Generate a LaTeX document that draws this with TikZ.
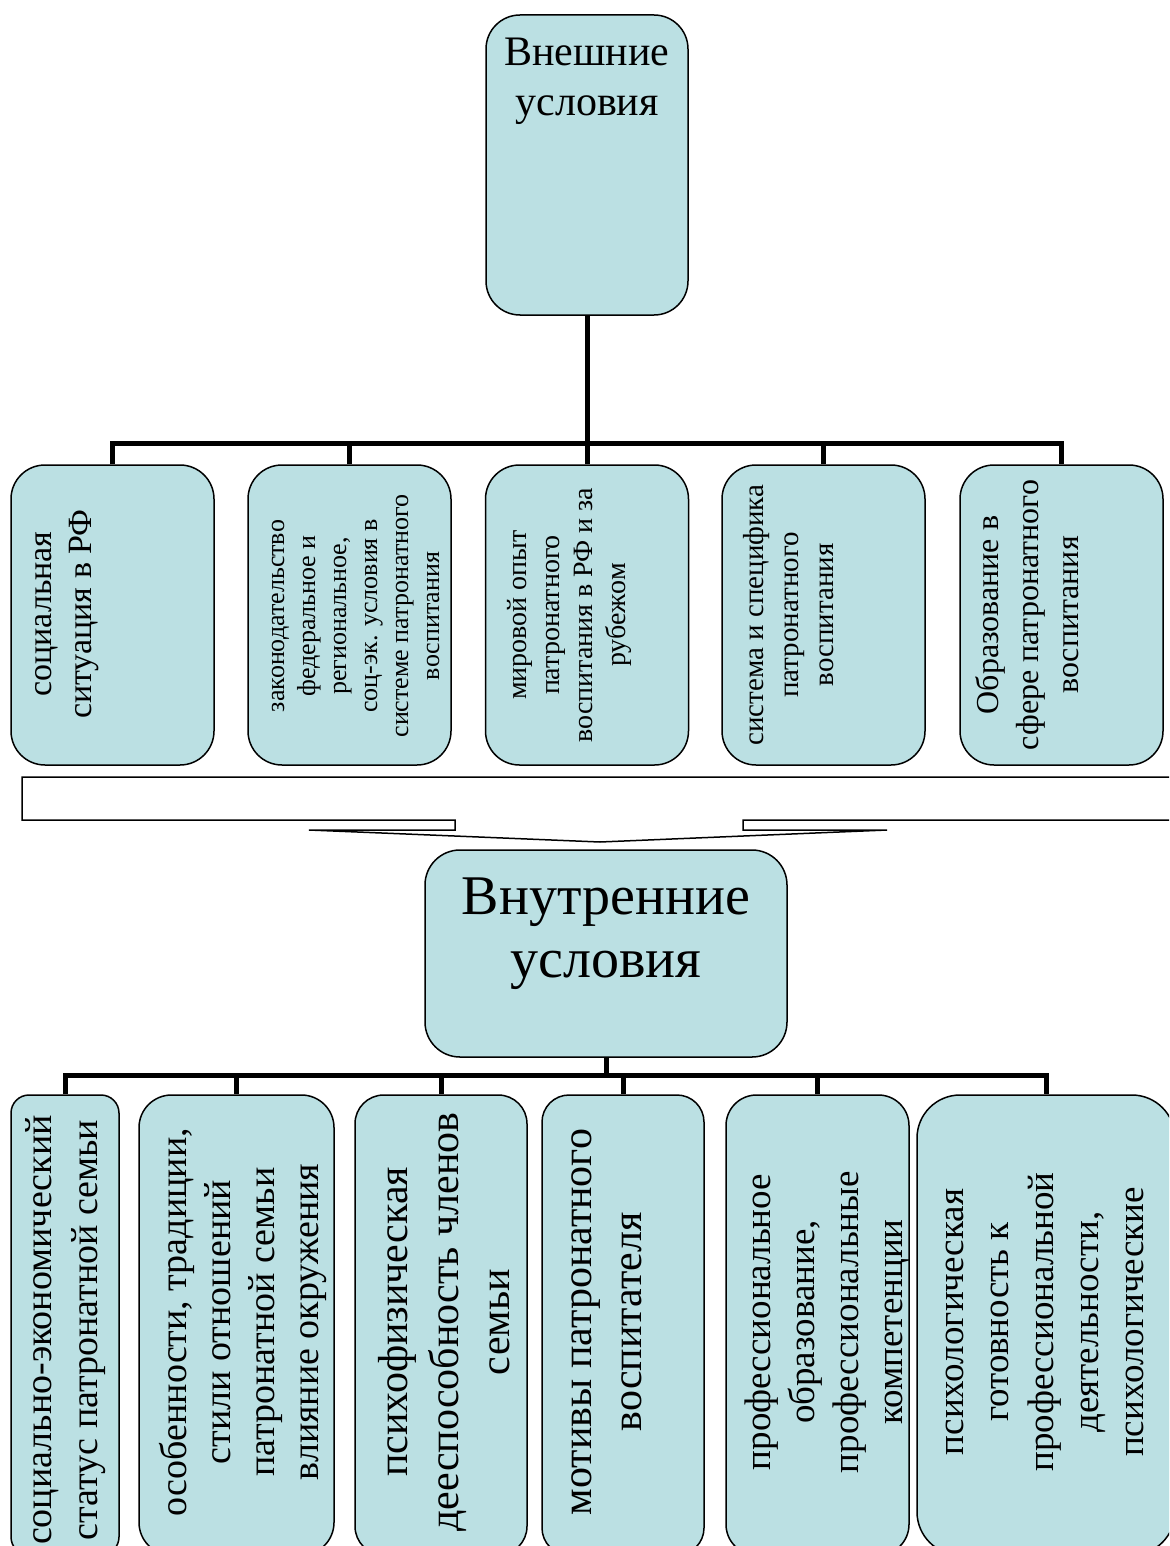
\documentclass[tikz,border=0pt]{standalone}
\usepackage{fontspec}
\setmainfont{Liberation Serif}
\usetikzlibrary{calc}
\definecolor{boxfill}{RGB}{187,224,227}

\begin{document}
\begin{tikzpicture}[x=1pt, y=-1pt,
    box/.style={draw, line width=1.5pt, fill=boxfill, inner sep=0pt},
    wire/.style={line width=5pt},
    lbl/.style={rotate=90, align=center, inner sep=0pt}]

  \useasboundingbox (0,0) rectangle (1169,1546);
  \clip (0,0) rectangle (1169,1546);

  % external conditions
  \node[box, rounded corners=34, minimum width=202, minimum height=300] (ext) at (587,165) {};
  \node[align=center, font=\fontsize{42}{50}\selectfont] (extlbl) at (587,81) {Внешние\\условия};

  \foreach \x [count=\i] in {112.5, 349.5, 587, 823.5, 1061.5}
    \node[box, rounded corners=34, minimum width=203, minimum height=300] (t\i) at (\x,615) {};

  \coordinate (extbus) at (587,443);
  \draw[wire] (ext.south) -- (extbus);
  \draw[wire] (t1.north) -- (t1.north |- extbus) -- (t5.north |- extbus) -- (t5.north);
  \foreach \i in {2,3,4}
    \draw[wire] (t\i.north) -- (t\i.north |- extbus);

  \node[lbl, font=\fontsize{34}{40}\selectfont] (t1lbl) at (67,614) {социальная\\ситуация в РФ};
  \node[lbl, font=\fontsize{26}{31}\selectfont] (t2lbl) at (355.5,616)
    {законодательство\\федеральное и\\региональное,\\соц-эк. условия в\\системе патронатного\\воспитания};
  \node[lbl, font=\fontsize{28}{33}\selectfont] (t3lbl) at (569,615)
    {мировой опыт\\патронатного\\воспитания в РФ и за\\рубежом};
  \node[lbl, font=\fontsize{29}{35}\selectfont] (t4lbl) at (788.5,615)
    {система и специфика\\патронатного\\воспитания};
  \node[lbl, font=\fontsize{32}{40}\selectfont] (t5lbl) at (1027,615)
    {Образование в\\сфере патронатного\\воспитания};

  % arrow down
  \draw[line width=1.5pt, fill=white] (22,777) -- (1190,777) -- (1190,820) -- (743,820)
    -- (743,830) -- (887,830) -- (600,842) -- (309,830) -- (455,830) -- (455,820)
    -- (22,820) -- cycle;

  % internal conditions
  \node[box, rounded corners=35, minimum width=362, minimum height=207] (int) at (606,953.5) {};
  \node[align=center, font=\fontsize{56}{63}\selectfont] (intlbl) at (606,934) {Внутренние\\условия};

  \foreach \x/\w [count=\i] in {65/108, 236.5/195, 441/172, 623/162, 817.5/183, 1046/258}
    \node[box, rounded corners=0.167*\w, minimum width=\w, minimum height=460] (b\i) at (\x,1325) {};

  \coordinate (intbus) at (606,1075);
  \draw[wire] (int.south) -- (intbus);
  \draw[wire] (b1.north) -- (b1.north |- intbus) -- (b6.north |- intbus) -- (b6.north);
  \foreach \i in {2,...,5}
    \draw[wire] (b\i.north) -- (b\i.north |- intbus);

  \node[lbl, font=\fontsize{38}{46}\selectfont] (b1lbl) at (65.5,1330)
    {социально-экономический\\статус патронатной семьи};
  \node[lbl, font=\fontsize{38}{44}\selectfont] (b2lbl) at (243,1322)
    {особенности, традиции,\\стили отношений\\патронатной семьи\\влияние окружения};
  \node[lbl, font=\fontsize{42}{51}\selectfont] (b3lbl) at (444.5,1322)
    {психофизическая\\дееспособность членов\\семьи};
  \node[lbl, font=\fontsize{42}{50}\selectfont] (b4lbl) at (607,1322)
    {мотивы патронатного\\воспитателя};
  \node[lbl, font=\fontsize{37}{44}\selectfont] (b5lbl) at (827,1322)
    {профессиональное\\образование,\\профессиональные\\компетенции};
  \node[lbl, font=\fontsize{37}{45}\selectfont] (b6lbl) at (1045,1322)
    {психологическая\\готовность к\\профессиональной\\деятельности,\\психологические};

\end{tikzpicture}
\end{document}
